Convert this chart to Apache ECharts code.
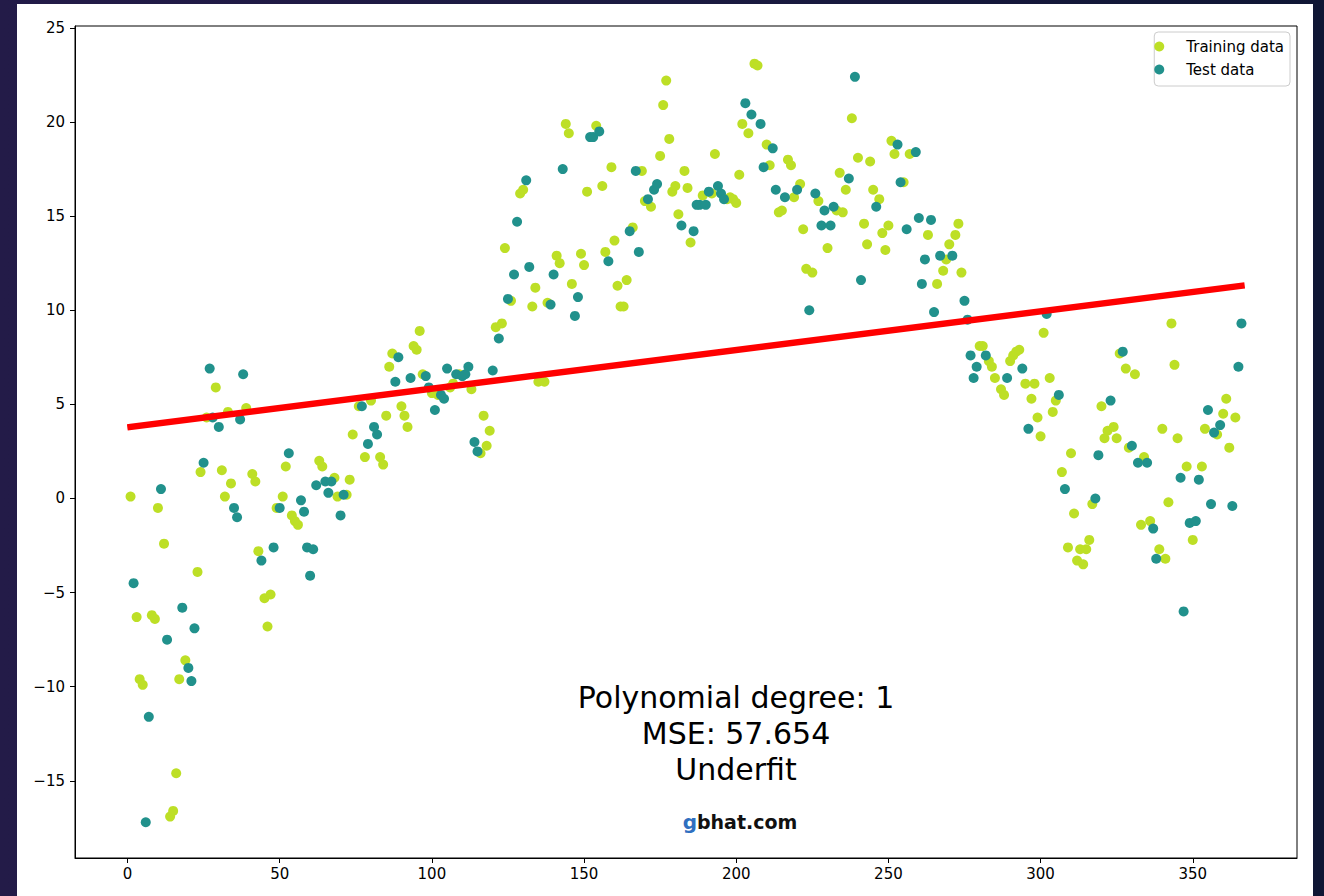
<!DOCTYPE html>
<html><head><meta charset="utf-8">
<script src="https://cdn.jsdelivr.net/npm/echarts@6/dist/echarts.min.js"></script>
<style>
html,body{margin:0;padding:0;width:1324px;height:896px;overflow:hidden;background:linear-gradient(90deg,#231b48 0%,#1b1a41 50%,#0f1634 100%);}
#chart{position:absolute;left:17px;top:4px;width:1296px;height:892px;background:#fff;}
</style></head><body><div id="chart"></div>
<script>
// ---- data ----
const trainDays = [1,3,4,5,8,9,10,12,14,15,16,17,19,23,24,26,29,31,32,33,34,39,
  41,42,43,45,46,47,49,51,52,54,55,56,63,64,68,69,72,73,74,76,78,80,83,84,85,86,87,90,
  91,92,94,95,96,97,100,102,106,107,109,113,116,117,118,119,121,123,124,126,129,130,
  133,134,135,137,138,141,142,144,145,146,149,150,151,154,156,157,159,160,161,162,163,
  164,166,169,170,172,175,176,177,178,179,180,181,183,184,185,189,192,193,197,198,199,
  200,201,202,204,206,207,210,211,214,215,217,218,219,221,222,223,225,227,230,233,234,
  235,236,238,240,242,243,244,245,247,248,249,250,251,252,255,257,263,266,268,269,270,
  272,273,274,280,281,283,284,285,287,288,290,291,292,293,295,297,298,299,300,301,303,
  304,305,307,309,310,311,312,313,314,315,316,317,320,321,322,324,325,326,328,329,331,
  333,334,336,339,340,341,342,343,344,345,348,350,353,354,358,360,361,362,364];
const trainValues = [0.1,-6.3,-9.6,-9.9,-6.2,-6.4,-0.5,-2.4,-16.9,-16.6,-14.6,-9.6,-8.6,-3.9,1.4,4.3,5.9,1.5,0.1,4.6,0.8,4.8,
  1.3,0.9,-2.8,-5.3,-6.8,-5.1,-0.5,0.1,1.7,-0.9,-1.2,-1.4,2.0,1.7,1.1,0.1,0.2,1.0,3.4,4.9,2.2,5.2,2.2,1.8,4.4,7.0,7.7,4.9,
  4.4,3.8,8.1,7.9,8.9,6.6,5.6,5.5,5.9,6.1,6.6,5.8,2.4,4.4,2.8,3.6,9.1,9.3,13.3,10.5,16.2,16.4,
  10.2,11.2,6.2,6.2,10.4,12.9,12.5,19.9,19.4,11.4,13.0,12.4,16.3,19.8,16.6,13.1,17.6,13.7,11.3,10.2,10.2,
  11.6,14.4,17.4,15.8,15.5,18.2,20.9,22.2,19.1,16.3,16.6,15.1,17.4,16.5,13.6,16.1,16.2,18.3,15.9,16.0,15.9,
  15.7,17.2,19.9,19.4,23.1,23.0,18.8,17.7,15.2,15.3,18.0,17.7,16.0,16.7,14.3,12.2,12.0,15.8,13.3,15.3,17.3,
  15.2,16.4,20.2,18.1,14.6,13.5,17.9,16.4,15.9,14.1,13.2,14.5,19.0,18.3,16.8,18.3,14.0,11.4,12.1,12.7,13.5,
  14.0,14.6,12.0,8.1,8.1,7.3,7.0,6.4,5.8,5.5,7.3,7.6,7.8,7.9,6.1,5.3,6.1,4.3,3.3,8.8,6.4,
  4.6,5.2,1.4,-2.6,2.4,-0.8,-3.3,-2.7,-3.5,-2.7,-2.2,-0.3,4.9,3.2,3.6,3.8,3.2,7.7,6.9,2.7,6.6,
  -1.4,2.2,-1.2,-2.7,3.7,-3.2,-0.2,9.3,7.1,3.2,1.7,-2.2,1.7,3.7,3.4,4.5,5.3,2.7,4.3];
const testDays = [2,6,7,11,13,18,20,21,22,25,27,28,30,35,36,37,38,44,48,50,53,57,58,59,60,61,62,
  65,66,67,70,71,77,79,81,82,88,89,93,98,99,101,103,104,105,108,110,111,112,114,115,120,122,125,
  127,128,131,132,139,140,143,147,148,152,153,155,158,165,167,168,171,173,174,182,186,187,188,190,
  191,194,195,196,203,205,208,209,212,213,216,220,224,226,228,229,231,232,237,239,241,246,253,254,
  256,259,260,261,262,264,265,267,271,275,276,277,278,279,282,289,294,296,302,306,308,318,319,323,
  327,330,332,335,337,338,346,347,349,351,352,355,356,357,359,363,365,366];
const testValues = [-4.5,-17.2,-11.6,0.5,-7.5,-5.8,-9.0,-9.7,-6.9,1.9,6.9,4.3,3.8,-0.5,-1.0,4.2,6.6,-3.3,-2.6,-0.5,2.4,-0.1,-0.7,-2.6,-4.1,-2.7,0.7,
  0.9,0.3,0.9,-0.9,0.2,4.9,2.9,3.8,3.4,6.2,7.5,6.4,6.5,5.9,4.7,5.5,5.3,6.9,6.6,6.5,6.6,7.0,3.0,2.5,6.8,8.5,10.6,
  11.9,14.7,16.9,12.3,10.3,11.9,17.5,9.7,10.7,19.2,19.2,19.5,12.6,14.2,17.4,13.1,15.9,16.4,16.7,14.5,14.2,15.6,15.6,15.6,
  16.3,16.6,16.2,15.9,21.0,20.4,19.9,17.6,18.6,16.4,16.0,16.4,10.0,16.2,14.5,15.3,14.5,15.5,17.0,22.4,11.6,15.5,18.8,16.8,
  14.3,18.4,14.9,11.4,12.7,14.8,9.9,12.9,12.9,10.5,9.5,7.6,6.4,7.0,7.6,6.4,6.9,3.7,9.8,5.5,0.5,0.0,2.3,5.2,
  7.8,2.8,1.9,1.9,-1.6,-3.2,1.1,-6.0,-1.3,-1.2,1.0,4.7,-0.3,3.5,3.9,-0.4,7.0,9.3];
const fitDays = [1, 366];
const fitValues = [3.8, 11.3];
const xTicks = [0, 50, 100, 150, 200, 250, 300, 350];
const yTicks = [-15, -10, -5, 0, 5, 10, 15, 20, 25];
const annotation = ['Polynomial degree: 1', 'MSE: 57.654', 'Underfit'];

// ---- chart ----
const zip = (xs, ys) => xs.map((x, i) => [x, ys[i]]);
const fmt = v => String(v).replace('-', '\u2212');
const FONT = '"DejaVu Sans", Verdana, sans-serif';
const chart = echarts.init(document.getElementById('chart'), null, {renderer: 'svg'});
chart.setOption({
  animation: false,
  backgroundColor: '#ffffff',
  grid: {left: 58, top: 22, width: 1222, height: 832, show: true, borderColor: '#000', borderWidth: 1, backgroundColor: '#fff'},
  xAxis: {
    type: 'value', min: -17.25, max: 384.25,
    splitLine: {show: false},
    axisLine: {show: true, onZero: false, lineStyle: {color: '#000', width: 1}},
    axisTick: {show: true, length: 5, lineStyle: {color: '#000', width: 1}, customValues: xTicks},
    axisLabel: {customValues: xTicks, color: '#000', fontSize: 15, fontFamily: FONT, margin: 8, formatter: fmt}
  },
  yAxis: {
    type: 'value', min: -19.1, max: 25.1,
    splitLine: {show: false},
    axisLine: {show: true, onZero: false, lineStyle: {color: '#000', width: 1}},
    axisTick: {show: true, length: 5, lineStyle: {color: '#000', width: 1}, customValues: yTicks},
    axisLabel: {customValues: yTicks, color: '#000', fontSize: 15, fontFamily: FONT, margin: 10, formatter: fmt}
  },
  legend: {
    data: ['Training data', 'Test data'],
    orient: 'vertical', right: 23, top: 28,
    backgroundColor: 'rgba(255,255,255,0.8)', borderColor: '#cccccc', borderWidth: 1, borderRadius: 4,
    padding: [7, 6, 9, 0], itemGap: 8, itemWidth: 44, itemHeight: 10, icon: 'circle',
    textStyle: {color: '#000', fontSize: 15, fontFamily: FONT}
  },
  series: [
    {name: 'Training data', type: 'scatter', data: zip(trainDays, trainValues), symbolSize: 10,
     itemStyle: {color: '#bddf26', opacity: 1}, z: 2},
    {name: 'Test data', type: 'scatter', data: zip(testDays, testValues), symbolSize: 10,
     itemStyle: {color: '#21918c', opacity: 1}, z: 3},
    {name: 'fit', type: 'line', data: zip(fitDays, fitValues), symbol: 'none', z: 4,
     lineStyle: {color: '#ff0000', width: 6.5, cap: 'square'}}
  ],
  graphic: [
    {type: 'text', x: 719, y: 675, z: 10,
     style: {text: annotation.join('\n'), textAlign: 'center', textVerticalAlign: 'top',
             font: '30px ' + FONT, lineHeight: 36, fill: '#000'}},
    {type: 'text', x: 723, y: 818, z: 10,
     style: {text: '{g|g}{b|bhat.com}', textAlign: 'center', textVerticalAlign: 'middle',
             rich: {g: {fill: '#2f6fc0', fontSize: 20, fontWeight: 'bold', fontFamily: FONT},
                    b: {fill: '#111', fontSize: 19, fontWeight: 'bold', fontFamily: FONT}}}}
  ]
});
</script></body></html>
